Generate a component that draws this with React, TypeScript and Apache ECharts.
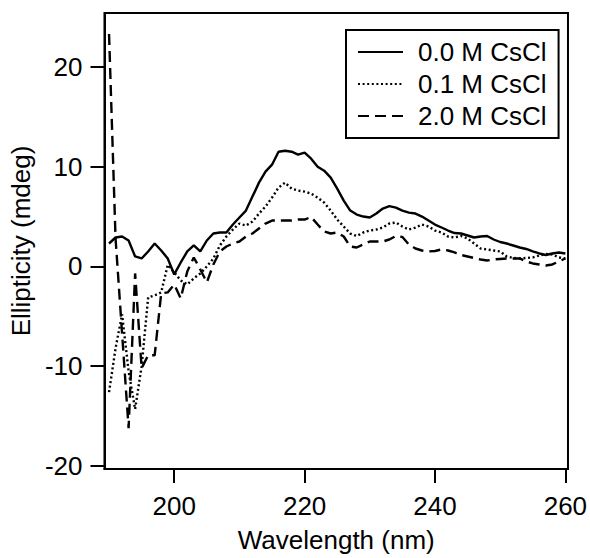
import React, { useEffect, useRef } from "react";
import * as echarts from "echarts";

const wavelength = [
  190, 191, 192, 193, 194, 195, 196, 197, 198, 199,
  200, 201, 202, 203, 204, 205, 206, 207, 208, 209,
  210, 211, 212, 213, 214, 215, 216, 217, 218, 219,
  220, 221, 222, 223, 224, 225, 226, 227, 228, 229,
  230, 231, 232, 233, 234, 235, 236, 237, 238, 239,
  240, 241, 242, 243, 244, 245, 246, 247, 248, 249,
  250, 251, 252, 253, 254, 255, 256, 257, 258, 259, 260,
];

const cs00 = [
  2.3, 2.9, 3.0, 2.6, 1.0, 0.8, 1.5, 2.3, 1.6, 0.8,
  -0.8, 0.4, 1.5, 2.1, 1.5, 2.6, 3.3, 3.4, 3.4, 4.2,
  4.9, 5.6, 7.0, 8.4, 9.5, 10.2, 11.5, 11.6, 11.5, 11.2,
  11.4, 10.8, 10.0, 9.6, 8.9, 7.8, 6.6, 5.6, 5.2, 5.0,
  4.9, 5.3, 5.8, 6.05, 5.9, 5.6, 5.4, 5.3, 5.0, 4.6,
  4.2, 3.9, 3.6, 3.35, 3.3, 3.1, 2.9, 3.0, 3.05, 2.7,
  2.45, 2.3, 2.1, 1.9, 1.75, 1.5, 1.3, 1.15, 1.3, 1.4, 1.3,
];

const cs01 = [
  -12.6, -8.2, -4.8, -10.5, -14.3, -10.0, -3.1, -2.9, -2.6, 0.15,
  -0.6, -1.4, -1.8, -1.2, -0.7, 0.0, 0.8, 2.1, 3.0, 3.7,
  4.3, 4.1, 4.5, 5.3, 6.0, 6.9, 7.9, 8.4, 7.8, 7.6,
  7.5, 7.3, 6.9, 6.4, 5.6, 4.7, 4.0, 3.3, 3.05, 3.4,
  3.6, 3.7, 3.9, 4.3, 4.4, 4.0, 3.7, 3.9, 4.2, 4.0,
  3.6, 3.4, 3.0, 2.9, 3.05, 2.8, 2.3, 1.8, 1.7, 1.6,
  1.5, 1.0, 0.85, 0.8, 0.85, 0.9, 1.1, 1.25, 1.2, 0.9, 0.8,
];

const cs20 = [
  23.3, 2.8, -6.7, -16.2, -0.7, -10.2, -8.9, -8.9, -2.7, -2.6,
  -1.8, -3.2, -0.5, 0.9, -0.3, -1.6, 0.2, 1.5, 2.0, 2.3,
  2.5, 3.0, 3.3, 3.8, 4.3, 4.6, 4.6, 4.6, 4.6, 4.7,
  4.7, 4.96, 4.2, 3.5, 3.3, 3.4, 3.0, 2.0, 1.9, 2.2,
  2.5, 2.5, 2.5, 2.7, 3.05, 2.95, 2.2, 1.8, 1.6, 1.5,
  1.55, 1.7, 1.6, 1.4, 1.15, 1.0, 0.85, 0.7, 0.6, 0.7,
  0.75, 0.8, 0.8, 0.8, 0.5, 0.3, 0.2, 0.1, 0.2, 0.5, 0.8,
];

const seriesNames = ["0.0 M CsCl", "0.1 M CsCl", "2.0 M CsCl"];
const xTicks = [200, 220, 240, 260];
const yTicks = [-20, -10, 0, 10, 20];

const FONT = "Liberation Sans, Arial, sans-serif";

export default function App() {
  const ref = useRef<HTMLDivElement>(null);
  useEffect(() => {
    if (!ref.current) return;
    const chart = echarts.init(ref.current, undefined, { renderer: "svg" });
    const pair = (ys: number[]) => wavelength.map((x, i) => [x, ys[i]]);
    const lineBase = { type: "line", showSymbol: false, symbol: "none", smooth: false };
    chart.setOption({
      animation: false,
      backgroundColor: "#fff",
      grid: {
        left: 92,
        top: 13,
        right: 22,
        bottom: 85,
        show: true,
        borderColor: "#000",
        borderWidth: 2,
        containLabel: false,
      },
      legend: {
        orient: "vertical",
        left: 346,
        top: 30,
        padding: [9, 12, 9, 11],
        itemGap: 6,
        itemWidth: 45,
        itemHeight: 24,
        borderColor: "#000",
        borderWidth: 2,
        data: seriesNames,
        itemStyle: { opacity: 0, borderWidth: 0 },
        textStyle: {
          fontFamily: FONT,
          fontSize: 26,
          color: "#000",
          lineHeight: 24,
          padding: [0, 0, 0, 10],
        },
      },
      xAxis: {
        type: "value",
        min: 189.3,
        max: 260.4,
        name: "Wavelength (nm)",
        nameLocation: "middle",
        nameGap: 58,
        nameTextStyle: { fontFamily: FONT, fontSize: 26, color: "#000" },
        axisLine: { onZero: false, lineStyle: { color: "#000", width: 2 } },
        axisTick: { show: true, length: 14, lineStyle: { color: "#000", width: 2 }, customValues: xTicks },
        axisLabel: { fontFamily: FONT, fontSize: 26, color: "#000", margin: 24, customValues: xTicks },
        splitLine: { show: false },
      },
      yAxis: {
        type: "value",
        min: -20.3,
        max: 25.4,
        name: "Ellipticity (mdeg)",
        nameLocation: "middle",
        nameGap: 58,
        nameTextStyle: { fontFamily: FONT, fontSize: 26, color: "#000" },
        axisLine: { onZero: false, lineStyle: { color: "#000", width: 2 } },
        axisTick: { show: true, length: 14, lineStyle: { color: "#000", width: 2 }, customValues: yTicks },
        axisLabel: { fontFamily: FONT, fontSize: 26, color: "#000", margin: 22, customValues: yTicks },
        splitLine: { show: false },
      },
      series: [
        {
          ...lineBase,
          name: seriesNames[0],
          data: pair(cs00),
          lineStyle: { color: "#000", width: 2.4, type: "solid" },
          itemStyle: { color: "#000" },
        },
        {
          ...lineBase,
          name: seriesNames[1],
          data: pair(cs01),
          lineStyle: { color: "#000", width: 2.4, type: [2, 2.6] },
          itemStyle: { color: "#000" },
        },
        {
          ...lineBase,
          name: seriesNames[2],
          data: pair(cs20),
          lineStyle: { color: "#000", width: 2.4, type: [11, 6] },
          itemStyle: { color: "#000" },
        },
      ],
    });
    return () => chart.dispose();
  }, []);
  return (
    <div
      ref={ref}
      style={{ position: "fixed", left: 0, top: 0, width: 590, height: 558, background: "#fff" }}
    />
  );
}
